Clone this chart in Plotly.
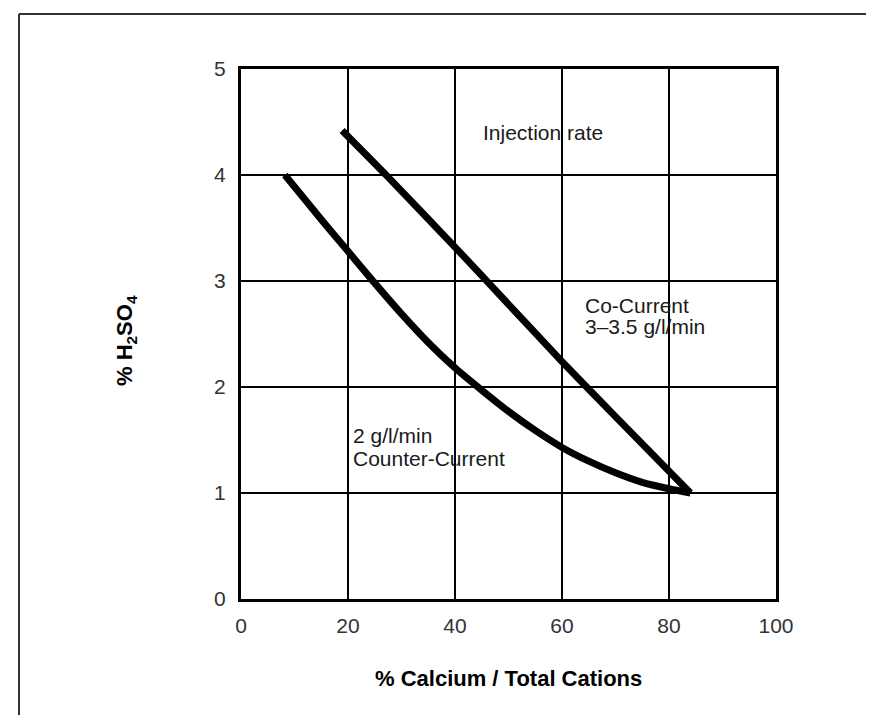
import plotly.graph_objects as go

# % calcium / total cations vs % H2SO4
co_x = [18.9, 27.5, 40.0, 50.0, 60.0, 70.0, 84.0]
co_y = [4.42, 3.98, 3.32, 2.78, 2.24, 1.72, 1.00]

counter_x = [8.2, 15, 20, 25, 30, 35, 40, 45, 50, 55, 60, 65, 70, 75, 80, 84]
counter_y = [4.00, 3.58, 3.28, 2.98, 2.69, 2.42, 2.18, 1.97, 1.77, 1.59, 1.43,
             1.30, 1.19, 1.10, 1.04, 1.00]

x_ticks = [0, 20, 40, 60, 80, 100]
y_ticks = [0, 1, 2, 3, 4, 5]

W, H = 874, 715
L, R, T, B = 233, 768, 61, 591

font_light = 'Liberation Sans, Arial, sans-serif'

fig = go.Figure()
for xs, ys in [(co_x, co_y), (counter_x, counter_y)]:
    fig.add_trace(go.Scatter(
        x=xs, y=ys, mode='lines',
        line=dict(color='black', width=7, shape='spline', smoothing=0.6),
        hoverinfo='skip', showlegend=False,
    ))

def px_x(p):
    return (p - L) / (R - L)

def px_y(p):
    return (B - p) / (B - T)

notes = [
    dict(x=44.9, y=4.40, text='Injection rate'),
    dict(x=63.9, y=2.77, text='Co-Current'),
    dict(x=63.9, y=2.57, text='3\u20133.5 g/l/min'),
    dict(x=20.6, y=1.54, text='2 g/l/min'),
    dict(x=20.6, y=1.33, text='Counter-Current'),
]
annotations = [
    dict(x=n['x'], y=n['y'], text=n['text'], xref='x', yref='y',
         xanchor='left', yanchor='middle', showarrow=False,
         font=dict(family=font_light, size=21, color='#1a1a1a'))
    for n in notes
]
annotations.append(dict(
    x=0.5, y=px_y(670), xref='paper', yref='paper',
    text='<b>% Calcium / Total Cations</b>', showarrow=False,
    xanchor='center', yanchor='middle',
    font=dict(family=font_light, size=22, color='black')))
annotations.append(dict(
    x=px_x(118), y=px_y(333), xref='paper', yref='paper',
    text='<b>% H<sub>2</sub>SO<sub>4</sub></b>', showarrow=False, textangle=-90,
    xanchor='center', yanchor='middle',
    font=dict(family=font_light, size=22, color='black')))

# outer frame (top and left edges only)
shapes = [
    dict(type='line', xref='paper', yref='paper', x0=px_x(11), x1=px_x(874),
         y0=px_y(6), y1=px_y(6), line=dict(color='#333', width=2)),
    dict(type='line', xref='paper', yref='paper', x0=px_x(11), x1=px_x(11),
         y0=px_y(6), y1=px_y(715), line=dict(color='#333', width=2)),
]

axis_common = dict(
    showgrid=True, gridcolor='black', gridwidth=1.5,
    showline=True, linecolor='black', linewidth=3, mirror=True,
    zeroline=False, ticks='',
    tickfont=dict(family=font_light, size=21, color='#333'),
)

fig.update_layout(
    width=W, height=H,
    margin=dict(l=L, r=W - R, t=T, b=H - B),
    paper_bgcolor='white', plot_bgcolor='white',
    xaxis=dict(range=[0, 100], tickvals=x_ticks, ticklabelstandoff=6, **axis_common),
    yaxis=dict(range=[0, 5], tickvals=y_ticks, ticklabelstandoff=8, **axis_common),
    annotations=annotations,
    shapes=shapes,
    showlegend=False,
)

fig.write_html('out.html')
